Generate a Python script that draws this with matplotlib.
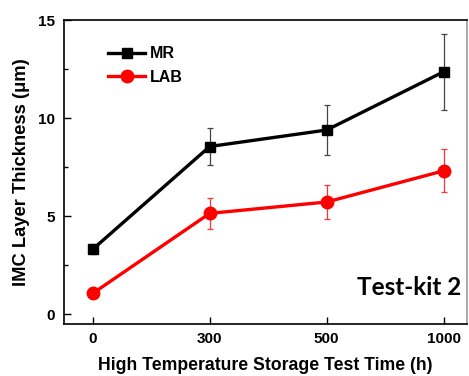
import matplotlib
matplotlib.use("Agg")
import matplotlib.pyplot as plt
import numpy as np

categories = ["0", "300", "500", "1000"]
mr_values = [3.31, 8.55, 9.39, 12.36]
mr_errors = [0.25, 0.95, 1.28, 1.95]
lab_values = [1.06, 5.14, 5.72, 7.31]
lab_errors = [0.05, 0.78, 0.87, 1.1]
y_ticks = [0, 5, 10, 15]

plt.rcParams['font.family'] = ['Liberation Sans', 'DejaVu Sans']

fig = plt.figure(figsize=(4.69, 3.76), dpi=100)
ax = fig.add_axes([63.5/469, 1-324/376, (467-63.5)/469, (324-20)/376])

x = np.arange(len(categories))
ax.errorbar(x, mr_values, yerr=mr_errors, fmt='none',
            ecolor='#444444', elinewidth=0.9, capsize=2.5, capthick=0.9, zorder=2)
ax.errorbar(x, lab_values, yerr=lab_errors, fmt='none',
            ecolor='#ff3333', elinewidth=0.9, capsize=2.5, capthick=0.9, zorder=2)
ax.plot(x, mr_values, color='black', lw=2.4, marker='s', ms=7.5, label='MR', zorder=4)
ax.plot(x, lab_values, color='#ff0000', lw=2.4, marker='o', ms=9, label='LAB', zorder=3)

ax.set_xlim(-0.25, 3.2)
ax.set_ylim(-0.5, 15)
ax.set_xticks(x)
ax.set_xticklabels(categories)
ax.set_yticks(y_ticks)
ax.set_yticks([2.5, 7.5, 12.5], minor=True)
ax.tick_params(axis='both', which='major', direction='in', length=5, width=1,
               labelsize=11, pad=6)
ax.tick_params(axis='y', which='minor', direction='in', length=3, width=1)
for lab in ax.get_xticklabels() + ax.get_yticklabels():
    lab.set_fontweight('bold')
for s in ax.spines.values():
    s.set_linewidth(1.2)
ax.spines['right'].set_color('#999999')

ax.set_xlabel('High Temperature Storage Test Time (h)', fontsize=12.7, fontweight='bold', labelpad=8)
ax.set_ylabel('IMC Layer Thickness (\u03bcm)', fontsize=13.2, fontweight='bold', labelpad=6)

leg = ax.legend(loc='upper left', bbox_to_anchor=(0.095, 0.935), frameon=False,
                prop={'weight': 'bold', 'size': 11.5}, handlelength=2.3,
                handletextpad=0.3, labelspacing=0.55, borderaxespad=0)

ax.text(0.985, 0.12, 'Test-kit 2', transform=ax.transAxes, ha='right', va='center',
        fontsize=17.5, fontweight='bold', family=['Lato', 'DejaVu Sans'])

fig.savefig('out.png', dpi=100)
